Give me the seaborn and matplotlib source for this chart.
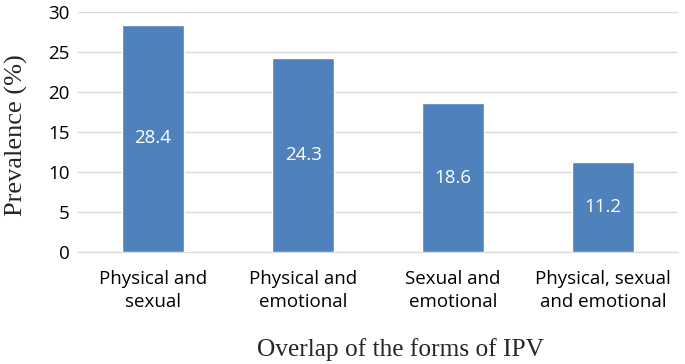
import matplotlib
matplotlib.use("Agg")
import matplotlib.pyplot as plt
import seaborn as sns
import pandas as pd

categories = ["Physical and\nsexual", "Physical and\nemotional", "Sexual and\nemotional", "Physical, sexual\nand emotional"]
prevalence = [28.4, 24.3, 18.6, 11.2]
yticks = [0, 5, 10, 15, 20, 25, 30]

df = pd.DataFrame({"form": categories, "value": prevalence})

sns.set_style("white")
plt.rcParams['font.family'] = ['Open Sans', 'DejaVu Sans']

fig = plt.figure(figsize=(6.85, 3.64), dpi=100)
ax = fig.add_axes([0.114, 0.308, 0.876, 0.659])

sns.barplot(data=df, x="form", y="value", color="#4F81BD", width=0.41,
            saturation=1, ax=ax, zorder=3)

ax.set_ylim(0, 30)
ax.set_yticks(yticks)
ax.set_xlim(-0.5, 3.5)
ax.yaxis.grid(True, color="#D9D9D9", linewidth=1, zorder=0)
ax.set_axisbelow(True)
for s in ["top", "right", "left"]:
    ax.spines[s].set_visible(False)
ax.spines["bottom"].set_color("#D9D9D9")
ax.tick_params(axis="both", length=0, labelsize=13.5, colors="black")
ax.tick_params(axis="x", pad=13)
ax.tick_params(axis="y", pad=6)
for lbl in ax.get_xticklabels():
    lbl.set_linespacing(1.35)

for i, v in enumerate(prevalence):
    ax.text(i, v / 2, f"{v}", ha="center", va="center", color="white", fontsize=13.5, zorder=4)

ax.set_ylabel("Prevalence (%)", family=["Liberation Serif"], fontsize=19)
ax.set_xlabel("Overlap of the forms of IPV", family=["Liberation Serif"], fontsize=18.3)
ax.yaxis.set_label_coords(-0.084, 0.4875)
ax.xaxis.set_label_coords(0.538, -0.36)

fig.savefig("out.png", dpi=100)
